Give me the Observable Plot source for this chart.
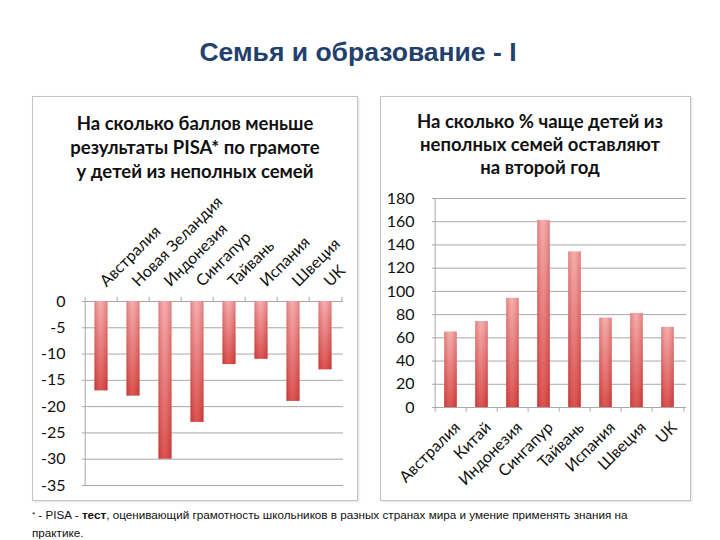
<!DOCTYPE html>
<html>
<head>
<meta charset="utf-8">
<script src="https://cdn.jsdelivr.net/npm/d3@7"></script>
<script src="https://cdn.jsdelivr.net/npm/@observablehq/plot@0.6"></script>
<style>
  body { margin:0; width:720px; height:540px; background:#fff; position:relative; overflow:hidden; font-family: Lato, "Open Sans", sans-serif; }
  .box { position:absolute; border:1px solid #c3c3c3; box-shadow: 1px 1px 2px rgba(0,0,0,0.12); background:#fff; }
  .ctitle { position:absolute; text-align:center; font-weight:bold; font-size:18.5px; color:#111; }
  .plotwrap { position:absolute; }
</style>
</head>
<body>
<svg width="0" height="0" style="position:absolute">
  <defs>
    <linearGradient id="gradV" x1="0" y1="0" x2="0" y2="1">
      <stop offset="0" stop-color="#f6a3a3"/>
      <stop offset="1" stop-color="#d6403d"/>
    </linearGradient>
    <linearGradient id="gradH" x1="0" y1="0" x2="1" y2="0">
      <stop offset="0" stop-color="#8a0000" stop-opacity="0.22"/>
      <stop offset="0.45" stop-color="#ffffff" stop-opacity="0.10"/>
      <stop offset="1" stop-color="#8a0000" stop-opacity="0.22"/>
    </linearGradient>
  </defs>
</svg>

<div style="position:absolute;top:37px;left:0;width:716px;text-align:center;font-family:'Liberation Sans',Arial,sans-serif;font-weight:bold;font-size:26.5px;color:#233f6c;">Семья и образование - I</div>

<div class="box" style="left:32px;top:96px;width:324px;height:403px;"></div>
<div class="box" style="left:380px;top:96px;width:309px;height:403px;"></div>

<div class="ctitle" style="left:33px;top:111px;width:324px;line-height:24px;">На сколько баллов меньше<br>результаты PISA* по грамоте<br>у детей из неполных семей</div>
<div class="ctitle" style="left:390px;top:110px;width:300px;line-height:23px;">На сколько % чаще детей из<br>неполных семей оставляют<br>на второй год</div>

<div id="left" class="plotwrap" style="left:33px;top:180px;"></div>
<div id="right" class="plotwrap" style="left:381px;top:180px;"></div>

<div style="position:absolute;left:32px;top:506px;width:688px;font-family:'Liberation Sans Narrow','Liberation Sans',Arial,sans-serif;font-size:11.7px;line-height:18px;color:#111;white-space:nowrap;"><span style="font-size:8px;vertical-align:2px">*</span> - PISA - <b>тест</b>, оценивающий грамотность школьников в разных странах мира и умение применять знания на<br>практике.</div>

<script>
// ---- Data ----
const categoriesPisa = ["Австралия", "Новая Зеландия", "Индонезия", "Сингапур", "Тайвань", "Испания", "Швеция", "UK"];
const valuesPisa = [-17, -18, -30, -23, -12, -11, -19, -13];
const ticksPisa = [0, -5, -10, -15, -20, -25, -30, -35];

const categoriesRepeat = ["Австралия", "Китай", "Индонезия", "Сингапур", "Тайвань", "Испания", "Швеция", "UK"];
const valuesRepeat = [65, 74, 94, 161, 134, 77, 81, 69];
const ticksRepeat = [0, 20, 40, 60, 80, 100, 120, 140, 160, 180];

const gridColor = "#a8a8a8";
const font = "Lato, 'Open Sans', sans-serif";

// ---- Left chart ----
{
  const W = 324, H = 320, ml = 49, mr = 14, mt = 121, mb = 15;
  const bw = (W - ml - mr) / categoriesPisa.length;
  const inset = bw * 0.29;
  const rows = categoriesPisa.map((c, i) => ({c, v: valuesPisa[i]}));
  const chart = Plot.plot({
    width: W, height: H, marginLeft: ml, marginRight: mr, marginTop: mt, marginBottom: mb,
    style: {background: "transparent", fontFamily: font, fontSize: "16px", color: "#111", overflow: "visible"},
    x: {type: "band", domain: categoriesPisa, padding: 0, axis: null},
    y: {domain: [-35, 0], axis: null},
    marks: [
      Plot.ruleY(ticksPisa, {stroke: gridColor}),
      Plot.ruleX([categoriesPisa[0]], {dx: -bw / 2, y1: -35, y2: 0, stroke: gridColor}),
      Plot.ruleX(categoriesPisa, {dx: -bw / 2, y1: 0, y2: 0.8, stroke: gridColor}),
      Plot.ruleX([categoriesPisa[categoriesPisa.length - 1]], {dx: bw / 2, y1: 0, y2: 0.8, stroke: gridColor}),
      Plot.barY(rows, {x: "c", y: "v", fill: "url(#gradV)", insetLeft: inset, insetRight: inset}),
      Plot.barY(rows, {x: "c", y: "v", fill: "url(#gradH)", insetLeft: inset, insetRight: inset}),
      Plot.axisY({ticks: ticksPisa, tickFormat: d => String(d), tickSize: 0, tickPadding: 17, fontSize: 16, label: null}),
      Plot.text(categoriesPisa, {x: d => d, text: d => d, frameAnchor: "top", rotate: -45, textAnchor: "start", dx: -3, dy: -22, fontSize: 16, fill: "#111"})
    ]
  });
  document.getElementById("left").appendChild(chart);
}

// ---- Right chart ----
{
  const W = 309, H = 320, ml = 51, mr = 4, mt = 18, mb = 93;
  const bw = (W - ml - mr) / categoriesRepeat.length;
  const inset = bw * 0.29;
  const rows = categoriesRepeat.map((c, i) => ({c, v: valuesRepeat[i]}));
  const chart = Plot.plot({
    width: W, height: H, marginLeft: ml, marginRight: mr, marginTop: mt, marginBottom: mb,
    style: {background: "transparent", fontFamily: font, fontSize: "16px", color: "#111", overflow: "visible"},
    x: {type: "band", domain: categoriesRepeat, padding: 0, axis: null},
    y: {domain: [0, 180], axis: null},
    marks: [
      Plot.ruleY(ticksRepeat, {stroke: gridColor}),
      Plot.ruleX([categoriesRepeat[0]], {dx: -bw / 2, y1: 0, y2: 180, stroke: gridColor}),
      Plot.ruleX(categoriesRepeat, {dx: -bw / 2, y1: 0, y2: -4, stroke: gridColor}),
      Plot.ruleX([categoriesRepeat[categoriesRepeat.length - 1]], {dx: bw / 2, y1: 0, y2: -4, stroke: gridColor}),
      Plot.barY(rows, {x: "c", y: "v", fill: "url(#gradV)", insetLeft: inset, insetRight: inset}),
      Plot.barY(rows, {x: "c", y: "v", fill: "url(#gradH)", insetLeft: inset, insetRight: inset}),
      Plot.axisY({ticks: ticksRepeat, tickFormat: d => String(d), tickSize: 0, tickPadding: 18, fontSize: 16, label: null}),
      Plot.text(categoriesRepeat, {x: d => d, text: d => d, frameAnchor: "bottom", rotate: -45, textAnchor: "end", dx: 10, dy: 21, fontSize: 16, fill: "#111"})
    ]
  });
  document.getElementById("right").appendChild(chart);
}
</script>
</body>
</html>
